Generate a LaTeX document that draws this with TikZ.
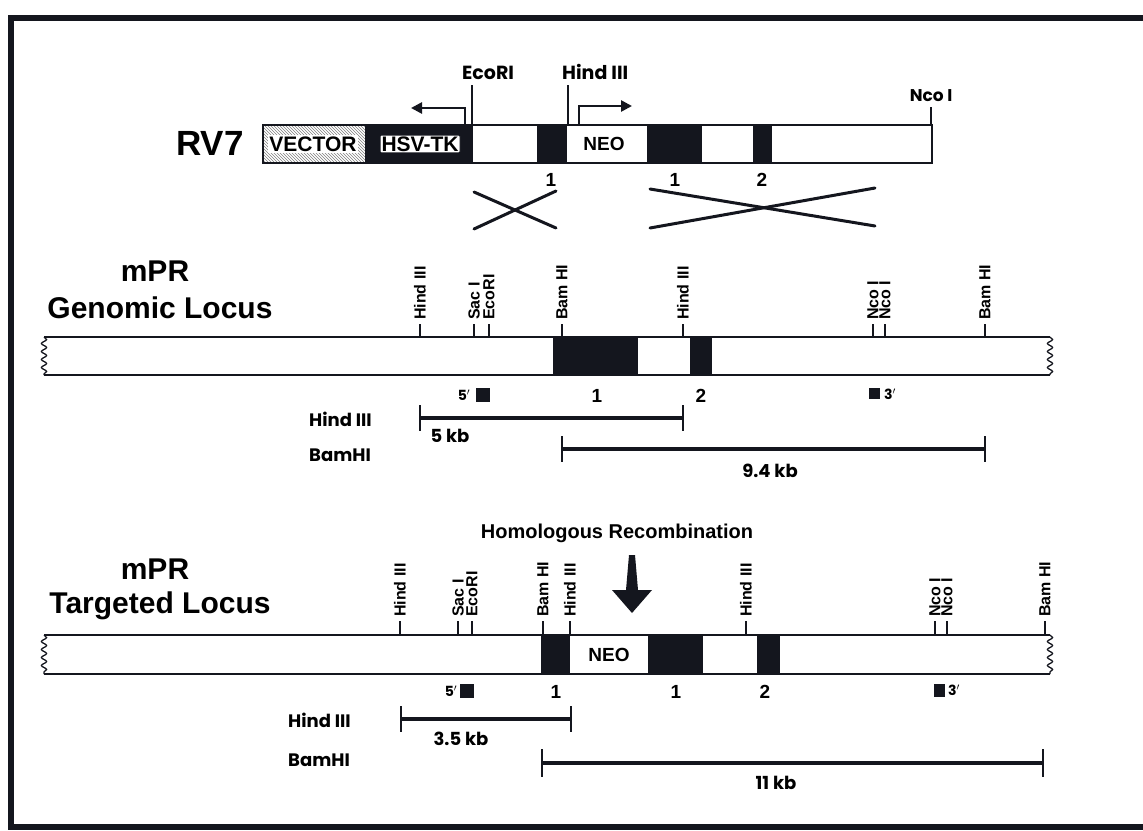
\documentclass[tikz,border=0pt]{standalone}
\usepackage{fontspec}
\setmainfont{Liberation Sans}
\newfontfamily\geo{Poppins}
\usetikzlibrary{patterns,decorations.pathmorphing,arrows.meta}
\definecolor{ink}{HTML}{14161E}
\newcommand\myfs[1]{\fontsize{#1}{#1}\selectfont\bfseries}
\newcommand\geofs[1]{\geo\fontsize{#1}{#1}\selectfont\bfseries}
\tikzset{
  bar/.style={draw=ink,line width=1.4},
  sitetick/.style={draw=ink,line width=1.2},
  site/.style={rotate=90,anchor=west,inner sep=0pt,font=\myfs{16}},
  big/.style={font=\myfs{30},inner sep=0pt},
  num/.style={font=\myfs{19},inner sep=0pt},
  lab/.style={font=\geofs{18},inner sep=0pt},
  spanline/.style={draw=ink,line width=3.5},
  rtick/.style={draw=ink,line width=2},
  wavy/.style={draw=ink,line width=1.3,decorate,decoration={snake,amplitude=2.6,segment length=8}},
  promo/.style={draw=ink,line width=2.6,-{Triangle[length=11,width=11]}},
  cross/.style={draw=ink,line width=3,line cap=round},
}
\begin{document}
\begin{tikzpicture}[x=1pt,y=-1pt]
\useasboundingbox (0,0) rectangle (1143,830);
% frame
\draw[ink,line width=6] (1150,18) -- (11,18) -- (11,827) -- (1150,827);

% ================= RV7 =================
\node[font=\myfs{35},inner sep=0pt] (rv7) at (210,143) {RV7};
\fill[pattern=north west lines,pattern color=gray] (263,125) rectangle (365,163);
\fill[ink] (365,125) rectangle (473,163);
\fill[ink] (537,125) rectangle (567,163);
\fill[ink] (647,125) rectangle (702,163);
\fill[ink] (753,125) rectangle (772,163);
\draw[bar] (263,125) rectangle (932,163);
\node[fill=white,inner sep=1.5pt,font=\myfs{21}] (vector) at (313,144) {VECTOR};
\node[fill=white,draw=ink,line width=1,inner sep=1.5pt,rounded corners=1,font=\myfs{21}] (hsvtk) at (420,144) {HSV-TK};
\node[font=\myfs{19},inner sep=0pt] (neo1) at (604,144) {NEO};
% sites
\node[font=\geofs{19},inner sep=0pt,anchor=south west] (ecoriT) at (462,80) {EcoRI};
\node[font=\geofs{19},inner sep=0pt,anchor=south west] (hindT) at (562,80) {Hind III};
\node[font=\geofs{17},inner sep=0pt,anchor=south] (ncoT) at (931,102) {Nco I};
\coordinate (ecoriTb) at (472,125);
\coordinate (hindTb) at (568,125);
\coordinate (ncoTb) at (931,125);
\draw[sitetick] (ecoriTb) -- ++(0,-40);
\draw[sitetick] (hindTb) -- ++(0,-40);
\draw[sitetick] (ncoTb) -- ++(0,-18);
% promoter arrows
\coordinate (tkp) at (465,125);
\coordinate (tke) at (411,108);
\draw[promo] (tkp) -- (tkp |- tke) -- (tke);
\coordinate (neop) at (579,125);
\coordinate (neoe) at (632,106);
\draw[promo] (neop) -- (neop |- neoe) -- (neoe);
% exon numbers
\node[num] (r1a) at (551,180) {1};
\node[num] (r1b) at (675,180) {1};
\node[num] (r2) at (762,180) {2};
% crosses
\draw[cross] (474,192) -- (556,228);
\draw[cross] (474,229) -- (556,191);
\draw[cross] (650,189) -- (875,226);
\draw[cross] (650,228) -- (875,188);

% ================= Genomic locus =================
\node[big] (mpr1) at (155,271) {mPR};
\node[big] (gen) at (160,308) {Genomic Locus};
\fill[ink] (553,337) rectangle (638,375);
\fill[ink] (690,337) rectangle (712,375);
\draw[bar] (44,337) -- (1050,337);
\draw[bar] (44,375) -- (1050,375);
\draw[wavy] (44,337) -- (44,375);
\draw[wavy] (1050,337) -- (1050,375);
\foreach \x/\t/\n in {420/Hind III/ga,474/Sac I/gb,489/EcoRI/gc,562/Bam HI/gd,683/Hind III/ge,873/Nco I/gf,885/Nco I/gg,985/Bam HI/gh}{
  \node[site] (\n) at (\x,320) {\t};
  \draw[sitetick] (\x,324) -- (\x,337);
}
\node[font=\geofs{14},inner sep=0pt] (g5) at (464,395) {5$'$};
\fill[ink] (476,388) rectangle (490,402);
\node[num] (g1) at (597,396) {1};
\node[num] (g2) at (701,396) {2};
\fill[ink] (869,388) rectangle (880,399);
\node[font=\geofs{14},inner sep=0pt,anchor=west] (g3) at (884,394) {3$'$};
\node[lab,anchor=west] (ghind) at (309,419) {Hind III};
\node[lab,anchor=west] (gbam) at (309,455) {BamHI};
\coordinate (gh1) at (420,418);
\coordinate (gh2) at (683,418);
\draw[spanline] (gh1) -- (gh2);
\draw[rtick] (gh1) ++(0,-13) -- ++(0,26);
\draw[rtick] (gh2) ++(0,-13) -- ++(0,26);
\node[lab] (g5kb) at (450,436) {5 kb};
\coordinate (gb1) at (562,449);
\coordinate (gb2) at (985,449);
\draw[spanline] (gb1) -- (gb2);
\draw[rtick] (gb1) ++(0,-13) -- ++(0,26);
\draw[rtick] (gb2) ++(0,-13) -- ++(0,26);
\node[lab] (g94) at (770,471) {9.4 kb};

% ================= Homologous recombination =================
\node[font=\myfs{20},inner sep=0pt] (homrec) at (617,533) {Homologous Recombination};
\fill[ink] (629,555) -- (635,555) -- (638,590) -- (652,590) -- (632,613) -- (612,590) -- (626,590) -- cycle;

% ================= Targeted locus =================
\node[big] (mpr2) at (155,569) {mPR};
\node[big] (tgt) at (160,606) {Targeted Locus};
\fill[ink] (541,635) rectangle (570,674);
\fill[ink] (648,635) rectangle (703,674);
\fill[ink] (757,635) rectangle (780,674);
\node[font=\myfs{19},inner sep=0pt] (neo2) at (609,655) {NEO};
\draw[bar] (44,635) -- (1050,635);
\draw[bar] (44,674) -- (1050,674);
\draw[wavy] (44,635) -- (44,674);
\draw[wavy] (1050,635) -- (1050,674);
\foreach \x/\t/\n in {400/Hind III/ta,458/Sac I/tb,472/EcoRI/tc,543/Bam HI/td,570/Hind III/te,746/Hind III/tf,935/Nco I/tg,947/Nco I/th,1045/Bam HI/ti}{
  \node[site] (\n) at (\x,617) {\t};
  \draw[sitetick] (\x,621) -- (\x,635);
}
\node[font=\geofs{14},inner sep=0pt] (t5) at (451,691) {5$'$};
\fill[ink] (460,684) rectangle (474,698);
\node[num] (t1a) at (556,692) {1};
\node[num] (t1b) at (676,692) {1};
\node[num] (t2) at (765,692) {2};
\fill[ink] (934,684) rectangle (945,697);
\node[font=\geofs{14},inner sep=0pt,anchor=west] (t3) at (948,690) {3$'$};
\node[lab,anchor=west] (thind) at (288,720) {Hind III};
\node[lab,anchor=west] (tbam) at (288,760) {BamHI};
\coordinate (th1) at (401,719);
\coordinate (th2) at (571,719);
\draw[spanline] (th1) -- (th2);
\draw[rtick] (th1) ++(0,-13) -- ++(0,26);
\draw[rtick] (th2) ++(0,-13) -- ++(0,26);
\node[lab] (t35) at (461,739) {3.5 kb};
\coordinate (tb1) at (542,763);
\coordinate (tb2) at (1043,763);
\draw[spanline] (tb1) -- (tb2);
\draw[rtick] (tb1) ++(0,-14) -- ++(0,28);
\draw[rtick] (tb2) ++(0,-14) -- ++(0,28);
\node[lab] (t11) at (776,783) {11 kb};
\end{tikzpicture}
\end{document}
